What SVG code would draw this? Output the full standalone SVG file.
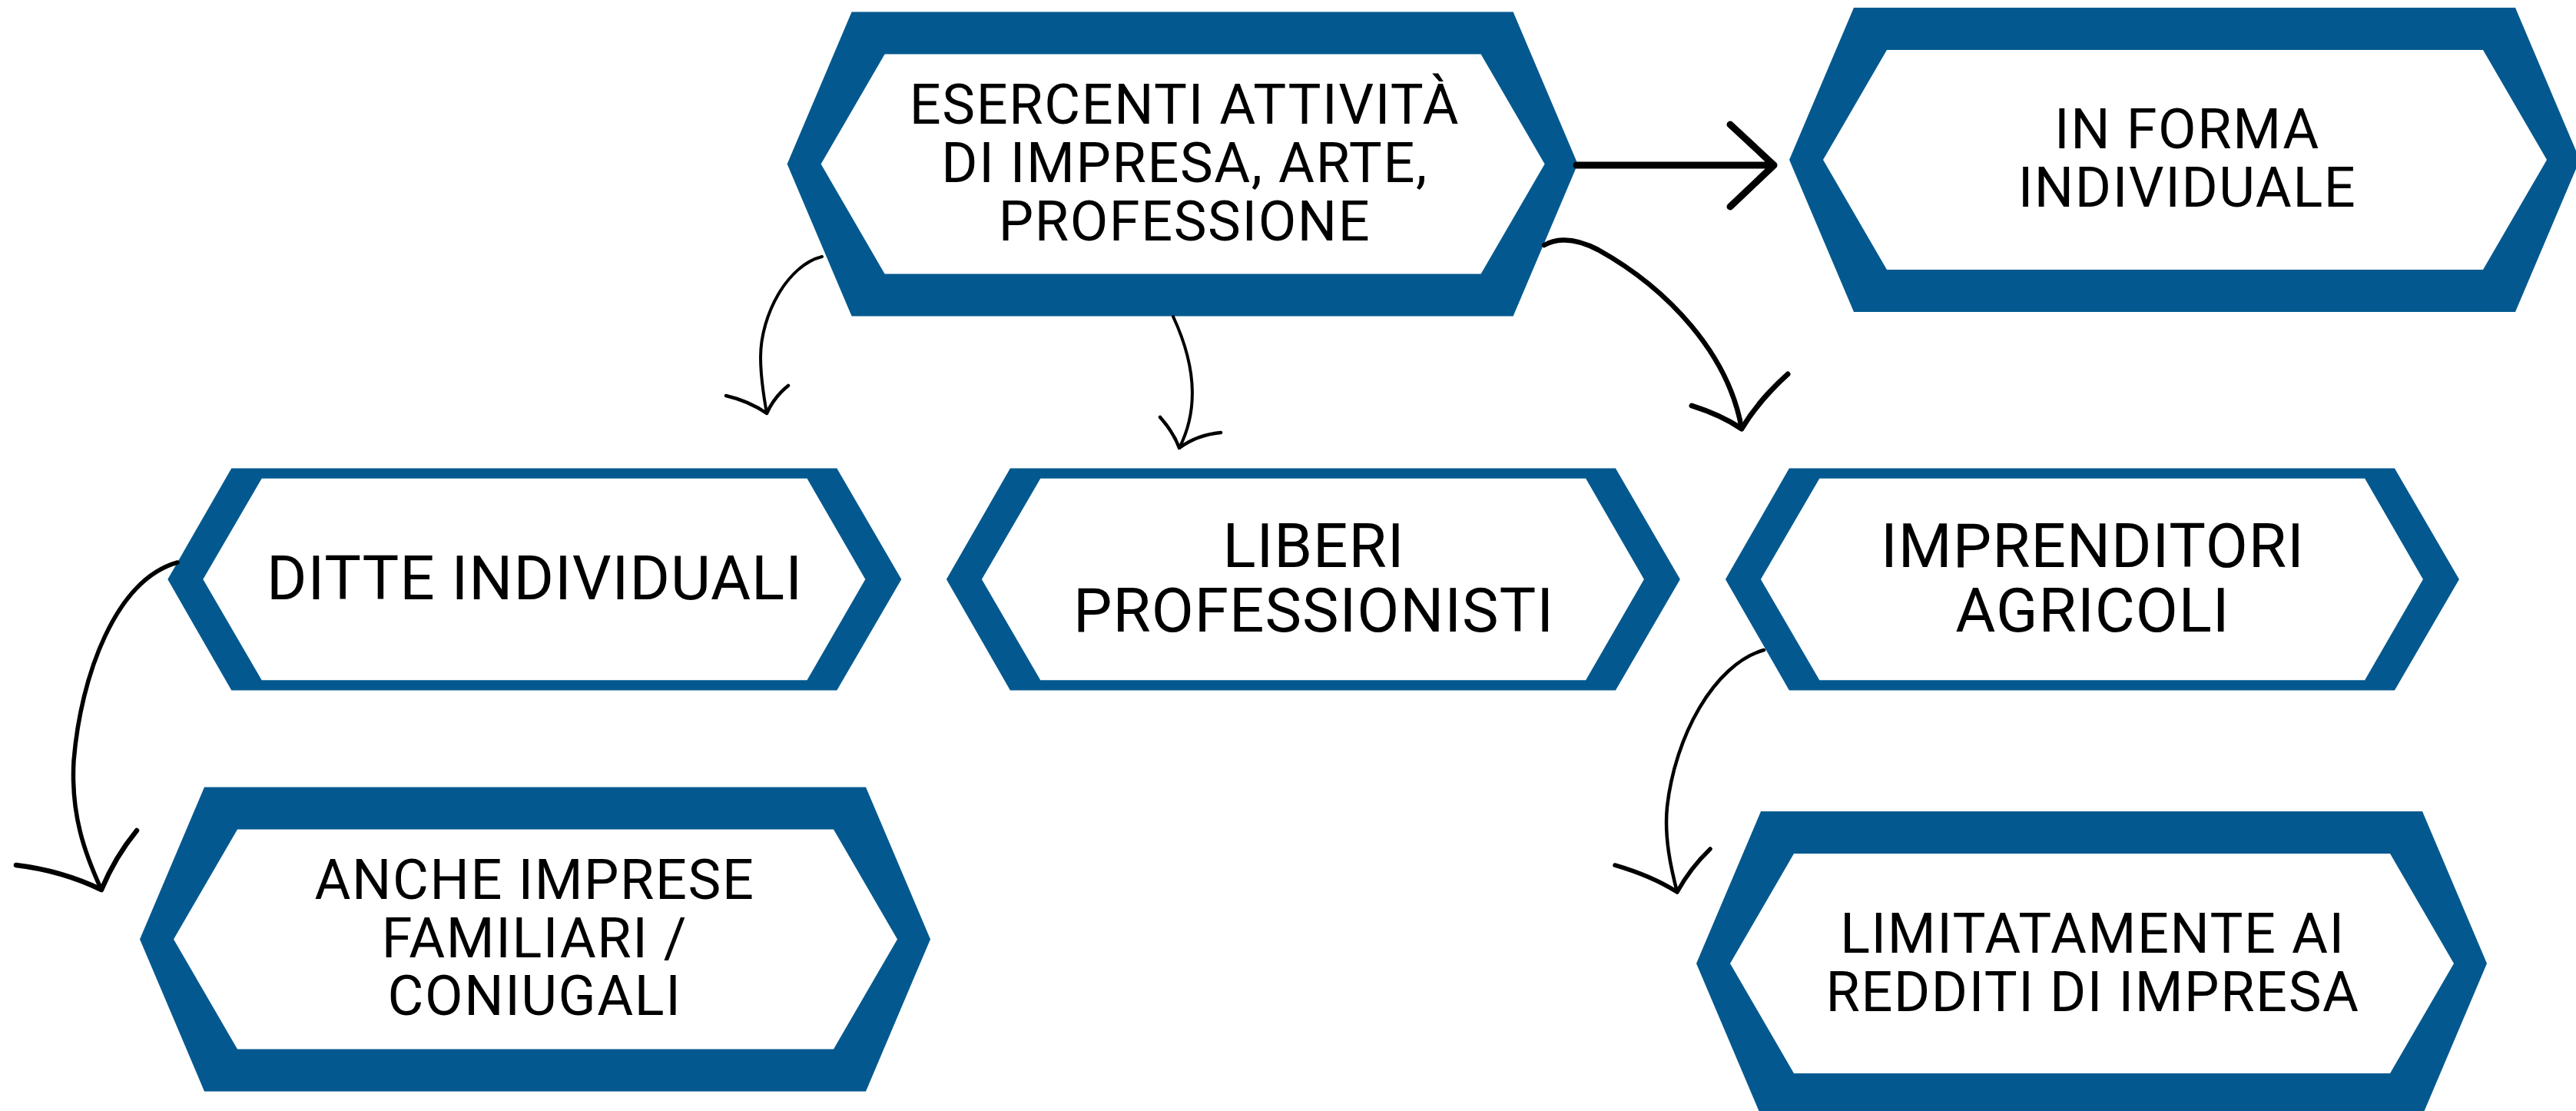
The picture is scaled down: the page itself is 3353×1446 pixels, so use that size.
<svg xmlns="http://www.w3.org/2000/svg" xmlns:xlink="http://www.w3.org/1999/xlink" width="3353" height="1446" viewBox="0 0 3353 1446">
<style>
.frame{fill:#03598f}
.fill{fill:#ffffff}
.lbl{font-family:Roboto,"Liberation Sans",sans-serif;fill:#000;text-anchor:middle}
.big{font-size:72px;letter-spacing:1.6px}
.mid{font-size:80px;letter-spacing:1px}
.ln{fill:none;stroke:#000;stroke-linecap:round;stroke-linejoin:round}
</style>
<defs>
<g id="bighex">
<polygon class="frame" points="84,-198 945,-198 1029,0 945,198 84,198 0,0"/>
<polygon class="fill" points="127,-143 903,-143 986,0 903,143 127,143 44,0"/>
</g>
<g id="midhex">
<polygon class="frame" points="83,-144.5 871,-144.5 955,0 871,144.5 83,144.5 0,0"/>
<polygon class="fill" points="122.4,-131.3 832.2,-131.3 908,0 832.2,131.3 122.4,131.3 46,0"/>
</g>
</defs>
<rect width="3353" height="1446" fill="#ffffff"/>
<g id="node-esercenti">
<use xlink:href="#bighex" transform="translate(1024.6,213.5)"/>
<text class="lbl big" x="1542" y="161">ESERCENTI ATTIVITÀ</text>
<text class="lbl big" x="1542" y="237">DI IMPRESA, ARTE,</text>
<text class="lbl big" x="1542" y="313">PROFESSIONE</text>
</g>
<g id="node-forma">
<use xlink:href="#bighex" transform="translate(2329,208)"/>
<text class="lbl big" x="2847" y="193">IN FORMA</text>
<text class="lbl big" x="2847" y="269">INDIVIDUALE</text>
</g>
<g id="node-ditte">
<use xlink:href="#midhex" transform="translate(218.3,754)"/>
<text class="lbl mid" x="696" y="780">DITTE INDIVIDUALI</text>
</g>
<g id="node-liberi">
<use xlink:href="#midhex" transform="translate(1231.9,754)"/>
<text class="lbl mid" x="1710" y="738">LIBERI</text>
<text class="lbl mid" x="1710" y="822">PROFESSIONISTI</text>
</g>
<g id="node-imprenditori">
<use xlink:href="#midhex" transform="translate(2245.9,754)"/>
<text class="lbl mid" x="2724" y="738">IMPRENDITORI</text>
<text class="lbl mid" x="2724" y="822">AGRICOLI</text>
</g>
<g id="node-anche">
<use xlink:href="#bighex" transform="translate(182,1222.4)"/>
<text class="lbl big" x="696" y="1170">ANCHE IMPRESE</text>
<text class="lbl big" x="696" y="1246">FAMILIARI /</text>
<text class="lbl big" x="696" y="1321">CONIUGALI</text>
</g>
<g id="node-limitatamente">
<use xlink:href="#bighex" transform="translate(2208,1254)"/>
<text class="lbl big" x="2724" y="1240">LIMITATAMENTE AI</text>
<text class="lbl big" x="2724" y="1316">REDDITI DI IMPRESA</text>
</g>
<g id="connectors">
<path class="ln" stroke-width="9" d="M2052,215 L2309,215 M2252,162 L2309,215 L2252,269"/>
<path class="ln" stroke-width="4" d="M1070,334 C1025,345 990,410 990,465 C990,495 995,520 998,538"/>
<path class="ln" stroke-width="4.5" d="M945,515 Q975,522 998,538 Q1008,516 1026,502"/>
<path class="ln" stroke-width="4" d="M1527,412 C1554,470 1562,530 1535,583"/>
<path class="ln" stroke-width="4.5" d="M1510,543 Q1527,562 1535,583 Q1558,566 1589,563"/>
<path class="ln" stroke-width="6.5" d="M2010,319 C2030,308 2055,312 2080,325 C2170,375 2250,460 2267,558"/>
<path class="ln" stroke-width="7" d="M2202,528 Q2240,540 2267,558 Q2290,520 2327,487"/>
<path class="ln" stroke-width="5.5" d="M231,732 C150,755 105,880 96,990 C92,1060 110,1110 132,1158"/>
<path class="ln" stroke-width="6.5" d="M21,1126 Q80,1133 132,1158 Q150,1115 178,1081"/>
<path class="ln" stroke-width="4.5" d="M2296,846 C2230,865 2180,960 2170,1050 C2166,1090 2175,1130 2183,1161"/>
<path class="ln" stroke-width="5.5" d="M2102,1126 Q2150,1140 2183,1161 Q2200,1130 2226,1105"/>
</g>
</svg>
